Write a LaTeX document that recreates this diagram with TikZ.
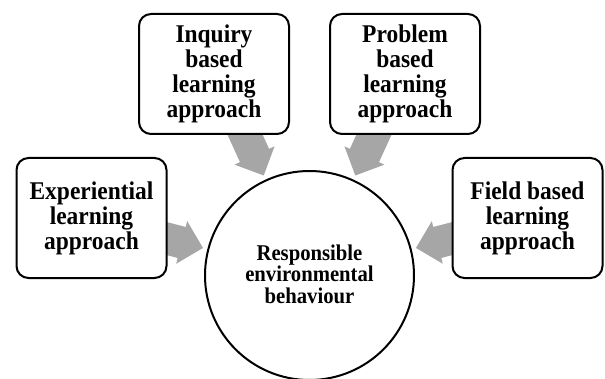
\documentclass[tikz,border=0pt]{standalone}
\usepackage{fontspec}
\setmainfont[FakeStretch=0.92]{Liberation Serif}
\definecolor{arrowgray}{HTML}{A6A6A6}
\begin{document}
\begin{tikzpicture}[x=1pt,y=1pt,
  approachbox/.style={draw=black, line width=2pt, rounded corners=12pt, fill=white,
    minimum width=150pt, minimum height=120pt, inner sep=0pt, align=center,
    font=\fontsize{25.5}{25}\selectfont\bfseries},
  centrecircle/.style={draw=black, line width=2pt, circle, fill=white,
    minimum size=209pt, inner sep=0pt, align=center,
    font=\fontsize{22.5}{21.8}\selectfont\bfseries},
  blockarrow/.style={fill=arrowgray, draw=none}]
\useasboundingbox (0,0) rectangle (605,378);
% centre
\node[centrecircle, text depth=3pt] (c) at (309.5,102.5) {Responsible\\environmental\\behaviour};
% block arrows pointing at the centre (drawn before the boxes)
\foreach \ang in {114.6,65.4,165.5,14.5}{
  \begin{scope}[shift={(c.center)}, rotate=\ang]
    \fill[blockarrow] (110,0) -- (132,22) -- (132,16) -- (172,16)
      -- (172,-16) -- (132,-16) -- (132,-22) -- cycle;
  \end{scope}
}
% boxes
\node[approachbox] (inq) at (214,304) {Inquiry\\based\\learning\\approach};
\node[approachbox] (pro) at (405,304) {Problem\\based\\learning\\approach};
\node[approachbox] (exp) at (91.5,160) {Experiential\\learning\\approach};
\node[approachbox] (fld) at (527.5,160) {Field based\\learning\\approach};
\end{tikzpicture}
\end{document}
